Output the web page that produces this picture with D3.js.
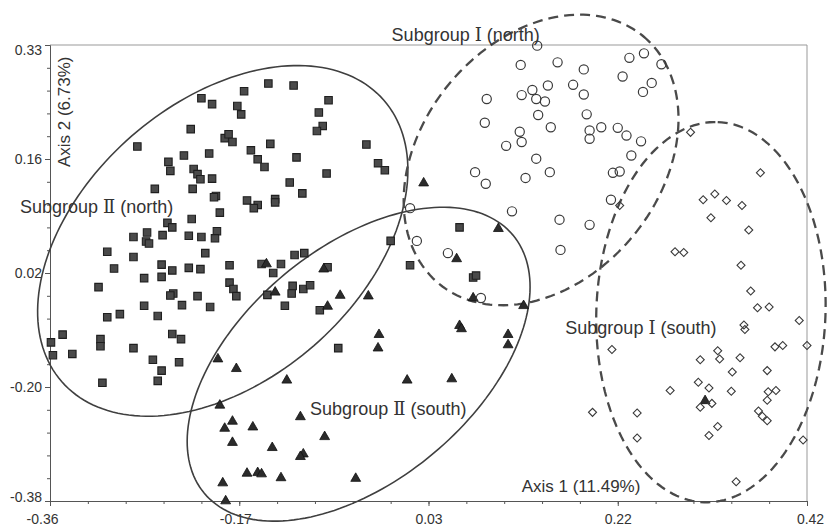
<!DOCTYPE html>
<html lang="en">

<head>
    <meta charset="UTF-8">
    <title>PCoA subgroups</title>
    <style>
        body {
            margin: 0;
            background: #fff;
        }

        svg {
            font-family: 'Liberation Sans', Arial, sans-serif;
        }

        .axis path,
        .axis line {
            stroke: #555;
        }

        .axis text {
            fill: #333;
            font-size: 14px;
            font-family: 'Liberation Sans', Arial, sans-serif;
        }

        .frame {
            stroke: #999;
            fill: none;
        }

        .label {
            fill: #333;
            font-size: 17px;
        }

        .group {
            font-size: 18px;
        }

        .roman {
            font-family: 'DejaVu Serif', 'Liberation Serif', serif;
        }
    </style>
</head>

<body>
    <div id="chart"></div>
</body>

</html>
<script src="https://cdnjs.cloudflare.com/ajax/libs/d3/7.8.5/d3.min.js"></script>
<script>
    // tick labels as printed on the chart
    const xTickLabels = ['-0.36', '-0.17', '0.03', '0.22', '0.42'];
    const yTickLabels = ['0.33', '0.16', '0.02', '-0.20', '-0.38'];
    const xTitle = 'Axis 1 (11.49%)';
    const yTitle = 'Axis 2 (6.73%)';
    const groupNames = ['Subgroup Ⅱ (north)', 'Subgroup Ⅱ (south)', 'Subgroup Ⅰ (north)', 'Subgroup Ⅰ (south)'];

    // Subgroup II (north) - filled squares
    const subIINorthX = [
        -0.270, -0.238, -0.236, -0.222, -0.215, -0.204, -0.193, -0.196, -0.212, -0.208,
        -0.205, -0.193, -0.180, -0.176, -0.172, -0.167, -0.163, -0.160, -0.153, -0.146,
        -0.139, -0.135, -0.133, -0.109, -0.073, -0.083, -0.079, -0.085, -0.106, -0.034,
        -0.022, -0.015, -0.075, -0.113, -0.100, -0.128, -0.252, -0.213, -0.189, -0.191,
        -0.157, -0.146, -0.150, -0.128, -0.185, -0.214, -0.239, -0.234, -0.260, -0.274,
        -0.244, -0.217, -0.204, -0.188, -0.190, -0.261, -0.258, -0.301, -0.274, -0.200,
        -0.245, -0.294, -0.234, -0.217, -0.205, -0.175, -0.142, -0.130, -0.263, -0.245,
        -0.310, -0.175, -0.171, -0.168, -0.233, -0.236, -0.208, -0.263, -0.224, -0.195,
        -0.301, -0.288, -0.249, -0.347, -0.308, -0.234, -0.225, -0.136, -0.359, -0.357,
        -0.308, -0.337, -0.306, -0.274, -0.254, -0.245, -0.249, -0.227, -0.122, -0.108,
        -0.098, -0.074, -0.110, -0.111, -0.099, -0.092, -0.118, -0.082, -0.009, 0.011,
        0.062, 0.076, 0.079, -0.063
    ];
    const subIINorthY = [
        0.172, 0.148, 0.134, 0.158, 0.199, 0.247, 0.238, 0.161, 0.137, 0.129,
        0.121, 0.122, 0.185, 0.191, 0.179, 0.235, 0.222, 0.258, 0.166, 0.152,
        0.140, 0.270, 0.176, 0.267, 0.244, 0.225, 0.204, 0.196, 0.155, 0.175,
        0.146, 0.135, 0.130, 0.116, 0.099, 0.090, 0.106, 0.106, 0.095, 0.093,
        0.088, 0.081, 0.076, 0.085, 0.069, 0.059, 0.053, 0.046, 0.038, 0.031,
        0.034, 0.033, 0.031, 0.040, 0.029, 0.024, 0.021, 0.008, 0.000, 0.006,
        -0.012, -0.018, -0.021, -0.017, -0.019, -0.013, -0.011, -0.025, -0.033, -0.031,
        -0.047, -0.040, -0.050, -0.061, -0.057, -0.060, -0.061, -0.076, -0.075, -0.078,
        -0.094, -0.089, -0.092, -0.121, -0.128, -0.120, -0.128, -0.059, -0.133, -0.153,
        -0.139, -0.151, -0.196, -0.142, -0.160, -0.177, -0.193, -0.164, -0.011, 0.003,
        0.006, -0.016, -0.045, -0.057, -0.050, -0.044, -0.076, -0.083, 0.025, -0.013,
        0.046, -0.032, -0.029, -0.142
    ];

    // Subgroup II (south) - filled triangles
    const subIISouthX = [
        -0.137, -0.128, -0.078, -0.074, -0.061, -0.032, 0.025, 0.059, 0.076, 0.102,
        0.062, 0.064, -0.021, -0.022, 0.128, 0.112, 0.112, -0.187, -0.168, -0.116,
        0.008, 0.054, -0.185, -0.172, -0.180, -0.151, -0.102, -0.172, -0.131, -0.077,
        -0.099, -0.102, -0.157, -0.146, -0.142, -0.122, -0.045, -0.182, -0.179, 0.315
    ];
    const subIISouthY = [
        -0.011, -0.055, -0.019, -0.077, -0.060, -0.061, 0.115, -0.003, -0.064, 0.044,
        -0.107, -0.112, -0.121, -0.142, -0.076, -0.121, -0.137, -0.159, -0.174, -0.192,
        -0.192, -0.190, -0.231, -0.256, -0.267, -0.265, -0.249, -0.289, -0.297, -0.280,
        -0.307, -0.311, -0.337, -0.336, -0.338, -0.344, -0.345, -0.352, -0.380, -0.224
    ];

    // Subgroup I (north) - open circles
    const subINorthX = [
        0.142, 0.125, 0.163, 0.190, 0.237, 0.252, 0.270, 0.230, 0.260, 0.251,
        0.090, 0.126, 0.137, 0.141, 0.150, 0.153, 0.179, 0.190, 0.088, 0.143,
        0.156, 0.193, 0.124, 0.126, 0.110, 0.196, 0.196, 0.208, 0.225, 0.234,
        0.249, 0.239, 0.141, 0.078, 0.089, 0.130, 0.155, 0.220, 0.227, 0.218,
        0.116, 0.165, 0.196, 0.011, 0.018, 0.050, 0.166, 0.084
    ];
    const subINorthY = [
        0.329, 0.299, 0.303, 0.292, 0.310, 0.317, 0.300, 0.281, 0.271, 0.257,
        0.246, 0.252, 0.260, 0.246, 0.242, 0.267, 0.268, 0.253, 0.209, 0.221,
        0.202, 0.222, 0.195, 0.179, 0.173, 0.197, 0.184, 0.202, 0.201, 0.189,
        0.180, 0.158, 0.153, 0.132, 0.114, 0.123, 0.132, 0.131, 0.133, 0.089,
        0.071, 0.058, 0.050, 0.076, 0.025, 0.006, 0.011, -0.064
    ];

    // Subgroup I (south) - open diamonds
    const subISouthX = [
        0.300, 0.372, 0.313, 0.325, 0.337, 0.353, 0.321, 0.360, 0.284, 0.293,
        0.352, 0.362, 0.369, 0.381, 0.412, 0.355, 0.356, 0.227, 0.219, 0.328,
        0.330, 0.351, 0.310, 0.387, 0.395, 0.420, 0.343, 0.379, 0.308, 0.319,
        0.279, 0.342, 0.380, 0.388, 0.379, 0.310, 0.322, 0.199, 0.245, 0.370,
        0.374, 0.379, 0.328, 0.319, 0.245, 0.416, 0.347
    ];
    const subISouthY = [
        0.194, 0.131, 0.089, 0.098, 0.088, 0.080, 0.061, 0.042, 0.008, 0.007,
        -0.013, -0.053, -0.079, -0.078, -0.099, -0.106, -0.113, 0.080, -0.144, -0.146,
        -0.159, -0.157, -0.160, -0.140, -0.138, -0.138, -0.179, -0.177, -0.195, -0.204,
        -0.208, -0.209, -0.210, -0.208, -0.223, -0.234, -0.228, -0.242, -0.243, -0.240,
        -0.248, -0.255, -0.264, -0.278, -0.282, -0.285, -0.350
    ];

    // group ellipses in data units: centre and two conjugate semi-axis vectors
    const ellipseCX = [-0.182, -0.042, 0.146, 0.321];
    const ellipseCY = [0.025, -0.167, 0.151, -0.086];
    const ellipseU = [[0.166, 0.219], [0.159, 0.201], [0.105, 0.193], [0.007, 0.296]];
    const ellipseV = [[0.094, -0.163], [0.077, -0.139], [0.095, -0.118], [0.118, -0.006]];

    const margin = { top: 45, right: 20, bottom: 27, left: 50 };
    const width = 827 - margin.left - margin.right;
    const height = 528 - margin.top - margin.bottom;

    // ticks are evenly spaced between the end labels
    function evenTicks(labels) {
        const lo = +labels[0], hi = +labels[labels.length - 1];
        return labels.map(function (d, i) { return lo + i * (hi - lo) / (labels.length - 1); });
    }
    const xMajor = evenTicks(xTickLabels);
    const yMajor = evenTicks(yTickLabels);
    function minors(major) {
        const step = (major[1] - major[0]) / 5;
        return d3.range(5 * (major.length - 1) + 1).map(function (i) { return major[0] + i * step; });
    }

    const x = d3.scaleLinear().domain([xMajor[0], xMajor[4]]).range([0, width]);
    const y = d3.scaleLinear().domain([yMajor[4], yMajor[0]]).range([height, 0]);

    const svg = d3.select('#chart').append('svg')
        .attr('width', 827)
        .attr('height', 528);
    svg.append('rect').attr('width', 827).attr('height', 528).attr('fill', '#fff');

    const g = svg.append('g')
        .attr('transform', 'translate(' + margin.left + ',' + margin.top + ')');

    // top and right frame
    g.append('path')
        .attr('class', 'frame')
        .attr('d', 'M0,0H' + width + 'V' + height);

    // minor ticks
    g.append('g')
        .attr('class', 'axis')
        .attr('transform', 'translate(0,' + height + ')')
        .call(d3.axisBottom(x).tickValues(minors(xMajor)).tickSize(3).tickSizeOuter(0).tickFormat(''));
    g.append('g')
        .attr('class', 'axis')
        .call(d3.axisLeft(y).tickValues(minors(yMajor)).tickSize(3).tickSizeOuter(0).tickFormat(''));

    // major ticks + labels
    const xAxis = g.append('g')
        .attr('class', 'axis')
        .attr('transform', 'translate(0,' + height + ')')
        .call(d3.axisBottom(x).tickValues(xMajor).tickSize(5).tickSizeOuter(0).tickPadding(8)
            .tickFormat(function (d, i) { return xTickLabels[i]; }));
    xAxis.selectAll('.tick text')
        .attr('dx', function (d, i) { return i === 0 ? -8 : (i === 1 ? -4 : (i === 4 ? 3 : 0)); });

    const yAxis = g.append('g')
        .attr('class', 'axis')
        .call(d3.axisLeft(y).tickValues(yMajor).tickSize(5).tickSizeOuter(0).tickPadding(3)
            .tickFormat(function (d, i) { return yTickLabels[i]; }));
    yAxis.selectAll('.tick text')
        .attr('dy', function (d, i) { return i === 0 ? '0.7em' : (i === 4 ? '0.05em' : '0.32em'); });

    // axis titles, drawn inside the plot
    g.append('text')
        .attr('class', 'label')
        .attr('x', x(0.126))
        .attr('y', y(-0.366))
        .text(xTitle);
    g.append('text')
        .attr('class', 'label')
        .attr('transform', 'translate(' + (x(-0.339)) + ',' + y(0.226) + ') rotate(-90)')
        .attr('text-anchor', 'middle')
        .text(yTitle);

    // ellipses
    const ellipseLine = d3.line()
        .x(function (d) { return x(d[0]); })
        .y(function (d) { return y(d[1]); })
        .curve(d3.curveLinearClosed);
    const ellipses = ellipseCX.map(function (cx, i) {
        return d3.range(0, 2 * Math.PI, Math.PI / 90).map(function (t) {
            return [cx + ellipseU[i][0] * Math.cos(t) + ellipseV[i][0] * Math.sin(t),
                ellipseCY[i] + ellipseU[i][1] * Math.cos(t) + ellipseV[i][1] * Math.sin(t)];
        });
    });
    g.selectAll('.ellipse')
        .data(ellipses)
        .enter().append('path')
        .attr('class', 'ellipse')
        .attr('d', ellipseLine)
        .attr('fill', 'none')
        .attr('stroke', function (d, i) { return i < 2 ? '#3f3f3f' : '#4a4a4a'; })
        .attr('stroke-width', function (d, i) { return i < 2 ? 1.6 : 2.3; })
        .attr('stroke-dasharray', function (d, i) { return i < 2 ? null : '10,6'; });

    function pts(xs, ys) {
        return xs.map(function (d, i) { return [d, ys[i]]; });
    }

    // squares
    g.selectAll('.sq')
        .data(pts(subIINorthX, subIINorthY))
        .enter().append('path')
        .attr('class', 'sq')
        .attr('d', d3.symbol(d3.symbolSquare, 56))
        .attr('transform', function (d) { return 'translate(' + x(d[0]) + ',' + y(d[1]) + ')'; })
        .attr('fill', '#4a4a4a')
        .attr('stroke', '#1f1f1f')
        .attr('stroke-width', 1.1);

    // triangles
    g.selectAll('.tri')
        .data(pts(subIISouthX, subIISouthY))
        .enter().append('path')
        .attr('class', 'tri')
        .attr('d', d3.symbol(d3.symbolTriangle, 42))
        .attr('transform', function (d) { return 'translate(' + x(d[0]) + ',' + y(d[1]) + ')'; })
        .attr('fill', '#2b2b2b')
        .attr('stroke', '#111')
        .attr('stroke-width', 0.8);

    // circles
    g.selectAll('.circ')
        .data(pts(subINorthX, subINorthY))
        .enter().append('circle')
        .attr('class', 'circ')
        .attr('cx', function (d) { return x(d[0]); })
        .attr('cy', function (d) { return y(d[1]); })
        .attr('r', 4.6)
        .attr('fill', 'none')
        .attr('stroke', '#3a3a3a')
        .attr('stroke-width', 1.2);

    // diamonds
    g.selectAll('.dia')
        .data(pts(subISouthX, subISouthY))
        .enter().append('path')
        .attr('class', 'dia')
        .attr('d', d3.symbol(d3.symbolSquare, 32))
        .attr('transform', function (d) { return 'translate(' + x(d[0]) + ',' + y(d[1]) + ') rotate(45)'; })
        .attr('fill', 'none')
        .attr('stroke', '#3a3a3a')
        .attr('stroke-width', 1.1);

    // group labels (left end of baseline, data units)
    const labelPos = [[-0.391, 0.069], [-0.092, -0.246], [-0.008, 0.336], [0.171, -0.120]];
    groupNames.forEach(function (name, i) {
        const t = g.append('text')
            .attr('class', 'label group')
            .attr('x', x(labelPos[i][0]))
            .attr('y', y(labelPos[i][1]));
        name.split(/([ⅠⅡ])/).forEach(function (part) {
            if (!part) return;
            t.append('tspan')
                .attr('class', /[ⅠⅡ]/.test(part) ? 'roman' : null)
                .text(part);
        });
    });
</script>
